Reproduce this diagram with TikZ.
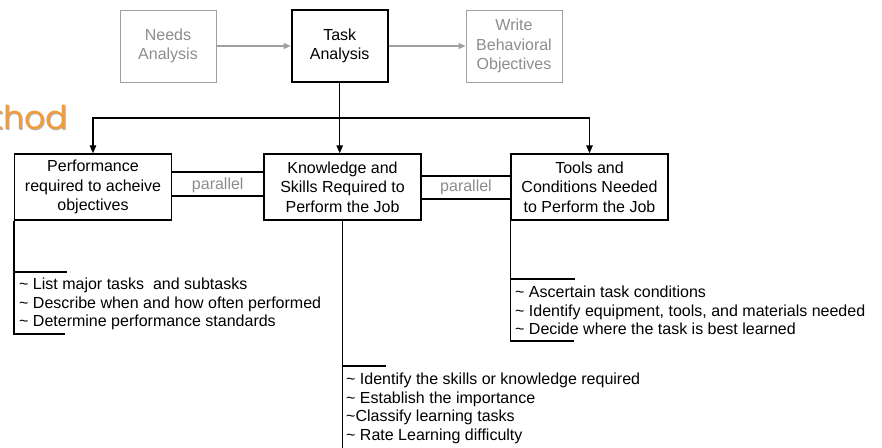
\documentclass[tikz,border=0pt]{standalone}
\usepackage{fontspec}
\setmainfont{Liberation Sans}
\newfontfamily\titlefont{Poppins}
\usepackage{tikz}
\usetikzlibrary{arrows.meta,calc}
\definecolor{boxgray}{HTML}{A0A0A0}
\definecolor{textgray}{HTML}{8C8C8C}
\definecolor{titleorange}{HTML}{F29B3B}

\begin{document}
\begin{tikzpicture}[x=1pt,y=-1pt,box/.style={shape=rectangle,draw=black,line width=1.4pt,align=center,inner sep=0pt,font=\fontsize{16}{19.5}\selectfont},boxT/.style={box,line width=2pt,minimum width=96pt,minimum height=72pt},boxG/.style={box,draw=boxgray,text=textgray,line width=1pt,minimum width=96pt,minimum height=72pt},boxM/.style={box,minimum width=157pt,minimum height=66pt},arrK/.style={line width=1.3pt,-{Triangle[length=8pt,width=6.5pt]}},arrG/.style={boxgray,line width=1.2pt,-{Triangle[length=7pt,width=6pt]}},para/.style={text=textgray,font=\fontsize{16}{19.5}\selectfont},brk/.style={line width=1.4pt},todo/.style={anchor=north west,align=left,inner sep=0pt,font=\fontsize{16}{18.4}\selectfont},ttl/.style={anchor=base east,inner sep=0pt,font=\titlefont\fontsize{33}{33}\selectfont}]
\def\tl{\textasciitilde}

\clip (0,0) rectangle (882,447);

\node[ttl,text=black!30] (Mshadow) at (69.5,130.5) {Method};
\node[ttl,text=titleorange] (M) at (68,129) {Method};

\node[boxG] (N) at (168,46) {Needs\\Analysis};
\node[boxT] (T) at (339.7,46) {Task\\Analysis};
\node[boxG] (W) at (514,46) {Write\\Behavioral\\Objectives};

\node[boxM] (P) at (93,187) {Performance\\required to acheive\\objectives};
\node[boxM] (K) at (342.5,187) {Knowledge and\\Skills Required to\\Perform the Job};
\node[boxM] (C) at (589.5,187) {Tools and\\Conditions Needed\\to Perform the Job};

\draw[arrG] (N) -- (T);
\draw[arrG] (T) -- (W);

\coordinate (bus) at (T.south |- 0,118);
\draw[line width=1.3pt] (T.south) -- (bus);
\draw[arrK] (bus) -| (P.north);
\draw[arrK] (bus) -| (C.north);
\draw[arrK] (bus) -- (bus |- K.north);

\draw[brk] ([yshift=15pt]P.east) -- ([yshift=15pt]K.west);
\draw[brk] ([yshift=-9pt]P.east) -- ([yshift=-9pt]K.west);
\node[para] (par1) at ($(P.east)!0.5!(K.west)+(0,-2)$) {parallel};
\draw[brk] ([yshift=11pt]K.east) -- ([yshift=11pt]C.west);
\draw[brk] ([yshift=-12pt]K.east) -- ([yshift=-12pt]C.west);
\node[para] (par2) at ($(K.east)!0.5!(C.west)+(0,0.5)$) {parallel};

\draw[brk] (P.south west) -- (P.south west |- 0,334) -- ++(51,0);
\draw[brk] (P.south west |- 0,272) -- ++(53,0);
\node[todo] (Pl) at (19,278) {\tl{} List major tasks\ \ and subtasks\\\tl{} Describe when and how often performed\\\tl{} Determine performance standards};

\draw[brk] (K.south) -- (K.south |- 0,452);
\draw[brk] (K.south |- 0,366) -- ++(43,0);
\node[todo] (Kl) at (346,373) {\tl{} Identify the skills or knowledge required\\\tl{} Establish the importance\\\tl{}Classify learning tasks\\\tl{} Rate Learning difficulty};

\draw[brk] (C.south west) -- (C.south west |- 0,341) -- ++(64,0);
\draw[brk] (C.south west |- 0,279) -- ++(65,0);
\node[todo] (Cl) at (515,286) {\tl{} Ascertain task conditions\\\tl{} Identify equipment, tools, and materials needed\\\tl{} Decide where the task is best learned};

\end{tikzpicture}
\end{document}
